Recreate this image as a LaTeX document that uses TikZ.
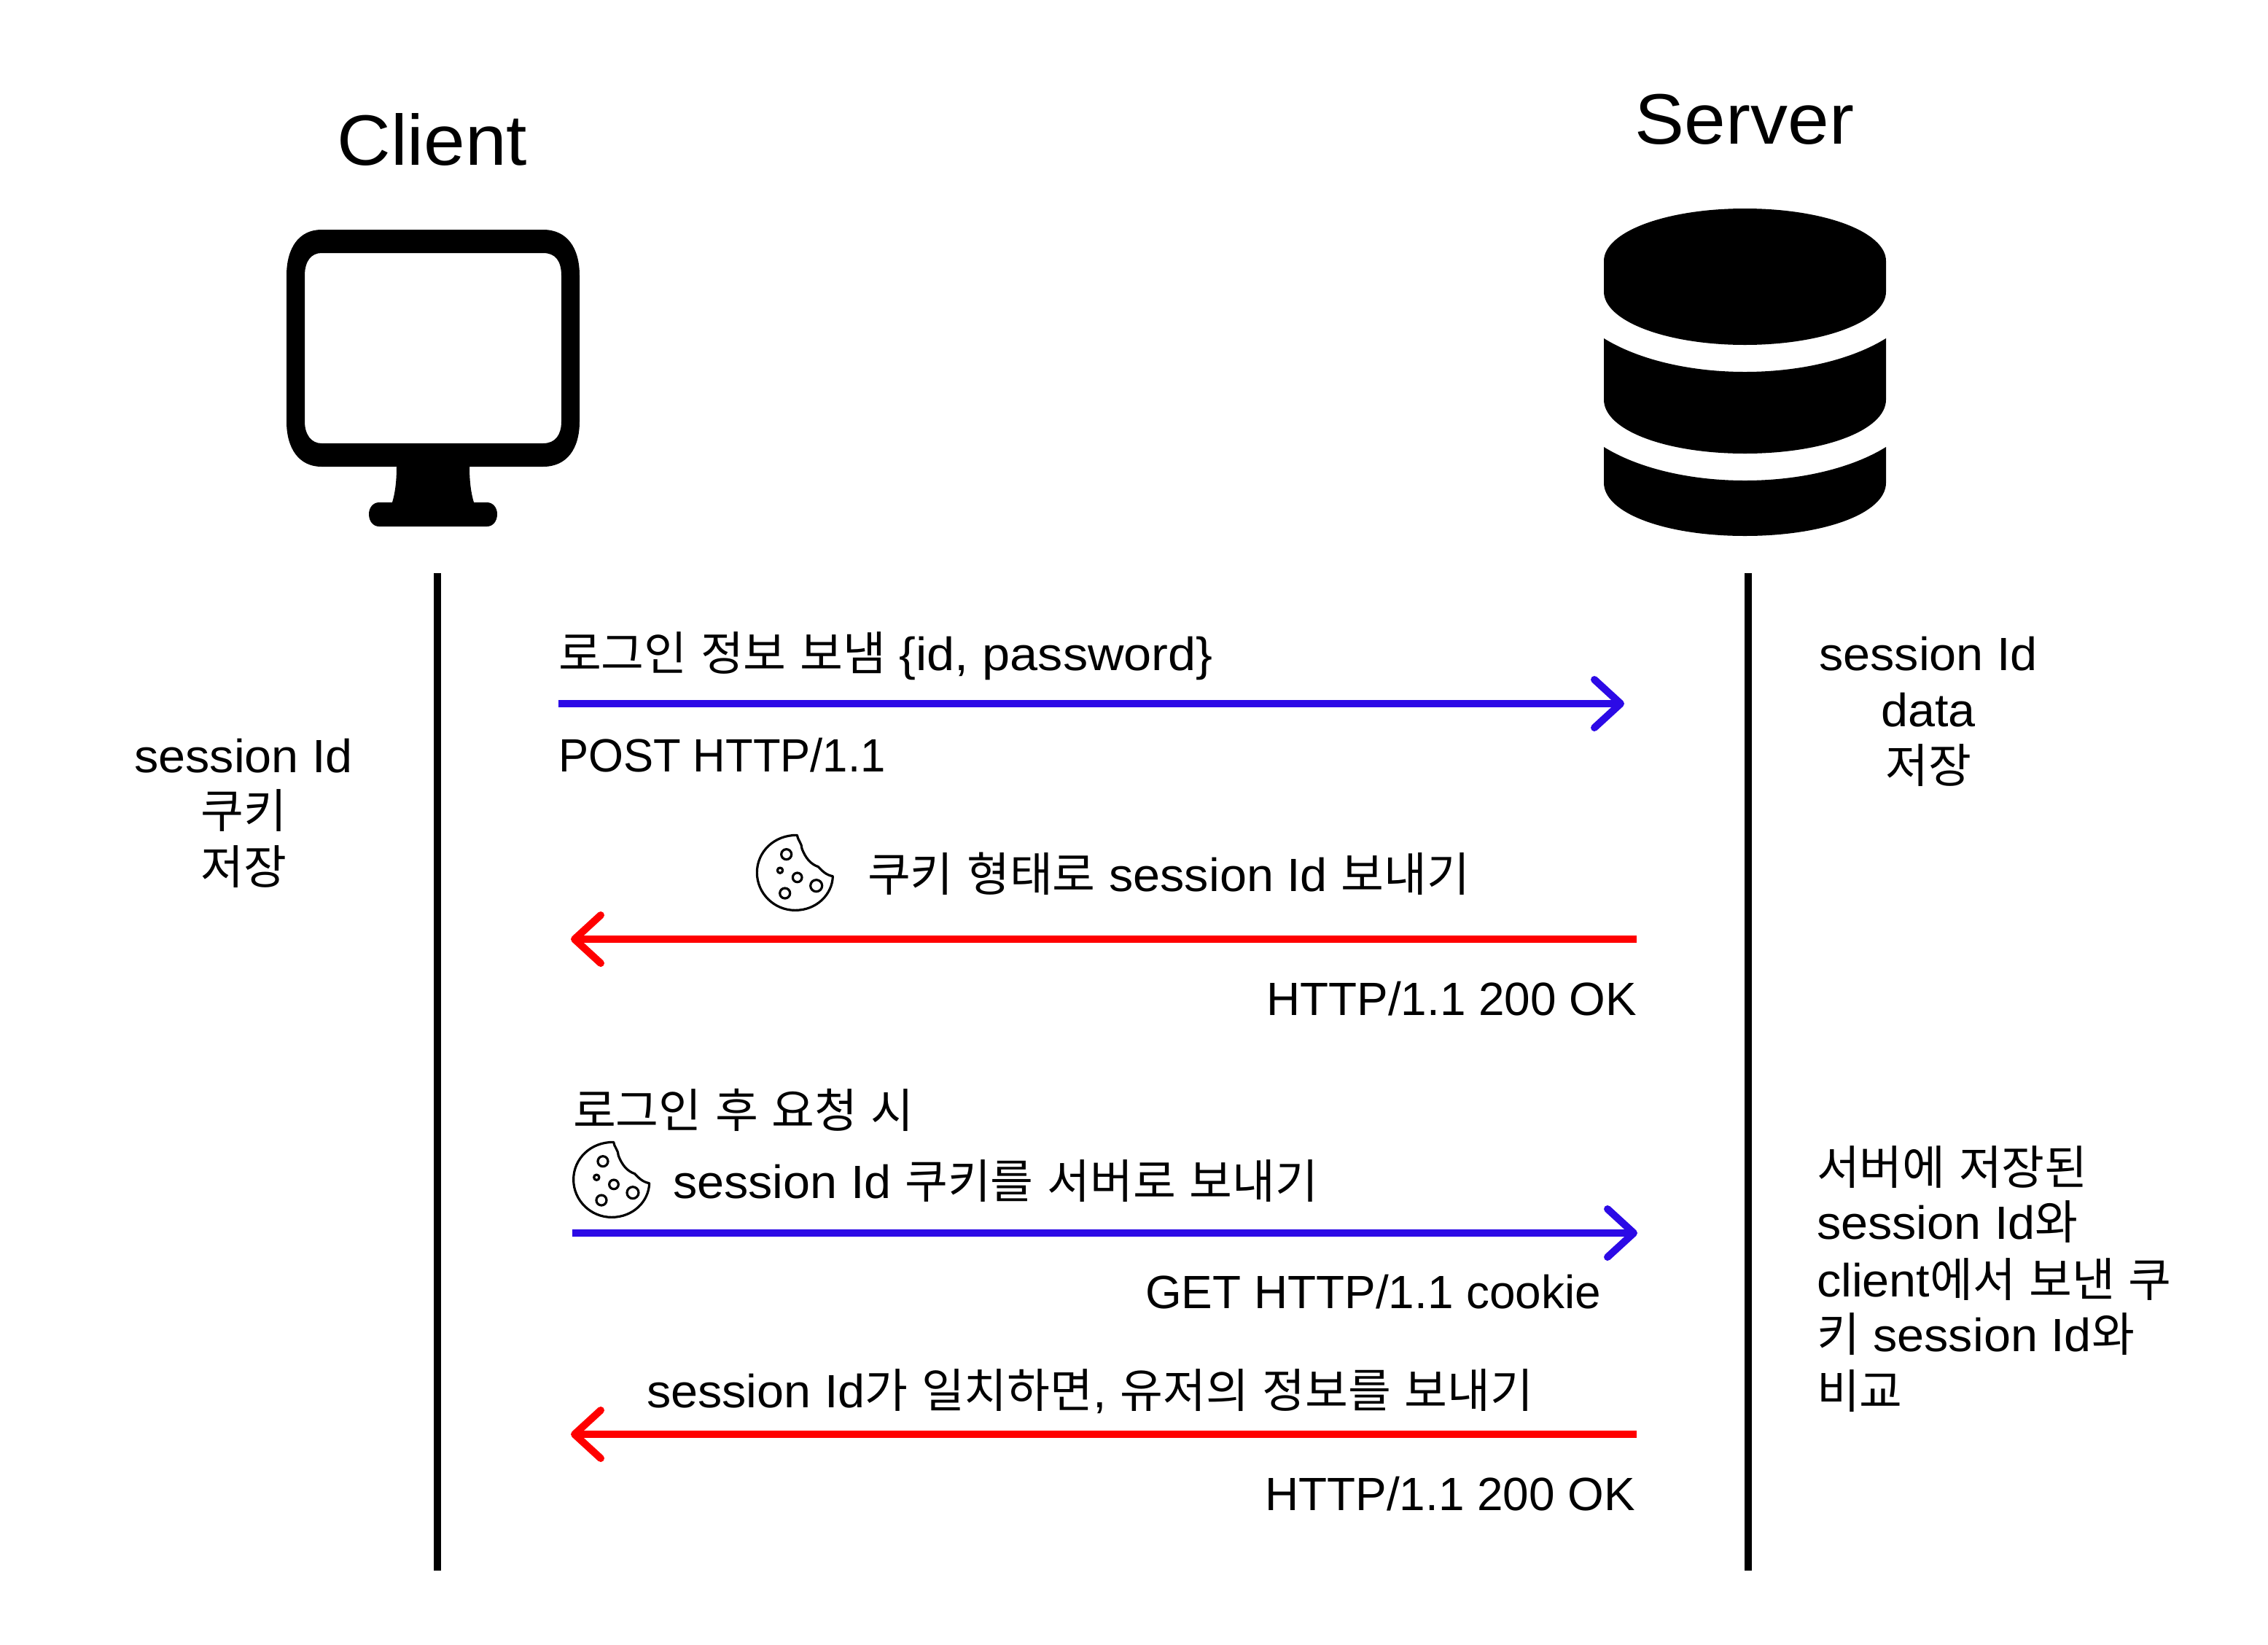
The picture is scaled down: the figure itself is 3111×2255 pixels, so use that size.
\documentclass[tikz,border=0pt]{standalone}
\usepackage{fontspec}
\usetikzlibrary{arrows.meta}
\setmainfont[FakeStretch=1.04]{Liberation Sans}
\newfontfamily\kofont{Noto Sans CJK KR}
\newfontfamily\latina[FakeStretch=0.963]{Liberation Sans}
\newfontfamily\latinb[FakeStretch=0.998]{Liberation Sans}
\newfontfamily\latinc[FakeStretch=1.07]{Liberation Sans}
\newcommand{\ko}[1]{{\kofont #1}}
\definecolor{blueline}{RGB}{44,10,230}
\definecolor{redline}{RGB}{255,0,0}
\tikzset{
  x=0.5pt,y=-0.5pt,
  body/.style={inner sep=0pt,outer sep=0pt,font=\fontsize{32}{38}\selectfont},
  head/.style={inner sep=0pt,outer sep=0pt,font=\fontsize{49}{56}\selectfont,anchor=base},
  leftlabel/.style={body,anchor=base west},
  rightlabel/.style={body,anchor=base east},
  lifeline/.style={line width=5pt,black},
  chevron/.style={-{Straight Barb[length=18pt,width=33pt,line width=5pt,round]},line width=5pt},
  reqarrow/.style={chevron,draw=blueline},
  resarrow/.style={chevron,draw=redline},
  cookiepath/.style={line width=1.6pt,black,line join=round},
  cookie/.pic={
    \begin{scope}[x=0.1667pt,y=-0.1667pt]
      \draw[cookiepath] (220,46) .. controls (222,65) and (240,80) .. (240,102)
        .. controls (255,140) and (275,165) .. (307,176)
        .. controls (325,195) and (340,210) .. (367,215)
        .. controls (365,290) and (300,355) .. (212,355)
        .. controls (125,355) and (55,285) .. (55,200)
        .. controls (55,115) and (125,45) .. (220,46) -- cycle;
      \draw[cookiepath] (176,125) circle[radius=21];
      \draw[cookiepath] (150,191) circle[radius=11];
      \draw[cookiepath] (221,220) circle[radius=19];
      \draw[cookiepath] (299,254) circle[radius=24];
      \draw[cookiepath] (170,285) circle[radius=21];
    \end{scope}
  }
}
\begin{document}
\begin{tikzpicture}
\useasboundingbox (0,0) rectangle (3111,2255);
\fill[white] (0,0) rectangle (3111,2255);

% headings
\node[head] (client) at (593,226) {Client};
\node[head] (server) at (2393,197) {Server};

% monitor icon
\fill[black,even odd rule]
  (441,315) -- (745,315) .. controls (778,315) and (795,340) .. (795,378)
  -- (795,578) .. controls (795,615) and (778,640) .. (745,640)
  -- (644,640) .. controls (644,660) and (646,676) .. (650,689)
  -- (668,689) .. controls (676,689) and (682,696) .. (682,705)
  .. controls (682,715) and (676,722) .. (668,722)
  -- (520,722) .. controls (512,722) and (506,715) .. (506,705)
  .. controls (506,696) and (512,689) .. (520,689)
  -- (538,689) .. controls (542,676) and (544,660) .. (544,640)
  -- (441,640) .. controls (410,640) and (393,615) .. (393,578)
  -- (393,378) .. controls (393,340) and (410,315) .. (441,315) -- cycle
  (441,347) .. controls (427,347) and (418,358) .. (418,378)
  -- (418,578) .. controls (418,596) and (427,608) .. (441,608)
  -- (745,608) .. controls (762,608) and (770,596) .. (770,578)
  -- (770,378) .. controls (770,358) and (762,347) .. (745,347) -- cycle;

% database icon
\fill[black] (2200,358) .. controls (2200,318) and (2285,286) .. (2393.5,286)
  .. controls (2502,286) and (2587,318) .. (2587,358)
  -- (2587,400) .. controls (2587,440) and (2502,473) .. (2393.5,473)
  .. controls (2285,473) and (2200,440) .. (2200,400) -- cycle;
\fill[black] (2200,464) .. controls (2245,492) and (2315,510) .. (2393.5,510)
  .. controls (2472,510) and (2542,492) .. (2587,464)
  -- (2587,548) .. controls (2587,590) and (2502,622) .. (2393.5,622)
  .. controls (2285,622) and (2200,590) .. (2200,548) -- cycle;
\fill[black] (2200,613) .. controls (2245,641) and (2315,659) .. (2393.5,659)
  .. controls (2472,659) and (2542,641) .. (2587,613)
  -- (2587,662) .. controls (2587,704) and (2502,735) .. (2393.5,735)
  .. controls (2285,735) and (2200,704) .. (2200,662) -- cycle;

% lifelines
\coordinate (ctop) at (600,786);
\coordinate (cbot) at (600,2154);
\coordinate (stop) at (2398,786);
\coordinate (sbot) at (2398,2154);
\draw[lifeline] (ctop) -- (cbot);
\draw[lifeline] (stop) -- (sbot);

% arrows
\coordinate (a1s) at (766,965);  \coordinate (a1e) at (2228,965);
\coordinate (a2s) at (2245,1288); \coordinate (a2e) at (783,1288);
\coordinate (a3s) at (785,1691); \coordinate (a3e) at (2246,1691);
\coordinate (a4s) at (2245,1967); \coordinate (a4e) at (783,1967);
\draw[reqarrow] (a1s) -- (a1e);
\draw[resarrow] (a2s) -- (a2e);
\draw[reqarrow] (a3s) -- (a3e);
\draw[resarrow] (a4s) -- (a4e);

% labels
\node[leftlabel] (l1) at (766,919) {\ko{로그인} \ko{정보} \ko{보냄} {\latinc\{id, password\}}};
\node[leftlabel] (l2) at (766,1058) {\latina POST HTTP/1.1};
\node[leftlabel] (l3) at (1190,1222) {\ko{쿠키} \ko{형태로} session Id \ko{보내기}};
\node[rightlabel] (l4) at (2245,1392) {\latinb HTTP/1.1 200 OK};
\node[leftlabel] (l5) at (786,1546) {\ko{로그인} \ko{후} \ko{요청} \ko{시}};
\node[leftlabel] (l6) at (923,1643) {session Id \ko{쿠키를} \ko{서버로} \ko{보내기}};
\node[rightlabel] (l7) at (2196,1794) {\latinb GET HTTP/1.1 cookie};
\node[leftlabel] (l8) at (887,1930) {session Id\ko{가} \ko{일치하면}, \ko{유저의} \ko{정보를} \ko{보내기}};
\node[rightlabel] (l9) at (2243,2071) {\latinb HTTP/1.1 200 OK};

% left note
\node[body,anchor=base] (n1a) at (334,1059) {session Id};
\node[body,anchor=base] (n1b) at (334,1135) {\ko{쿠키}};
\node[body,anchor=base] (n1c) at (334,1212) {\ko{저장}};

% right note 1
\node[body,anchor=base] (n2a) at (2645,919) {session Id};
\node[body,anchor=base] (n2b) at (2645,996) {data};
\node[body,anchor=base] (n2c) at (2645,1073) {\ko{저장}};

% right note 2
\node[leftlabel] (n3a) at (2492,1624) {\ko{서버에} \ko{저장된}};
\node[leftlabel] (n3b) at (2492,1699) {session Id\ko{와}};
\node[leftlabel] (n3c) at (2492,1778) {client\ko{에서} \ko{보낸} \ko{쿠}};
\node[leftlabel] (n3d) at (2492,1853) {\ko{키} session Id\ko{와}};
\node[leftlabel] (n3e) at (2492,1931) {\ko{비교}};

% cookies
\pic at (1020,1130) {cookie};
\pic at (768.3,1551) {cookie};
\end{tikzpicture}
\end{document}
